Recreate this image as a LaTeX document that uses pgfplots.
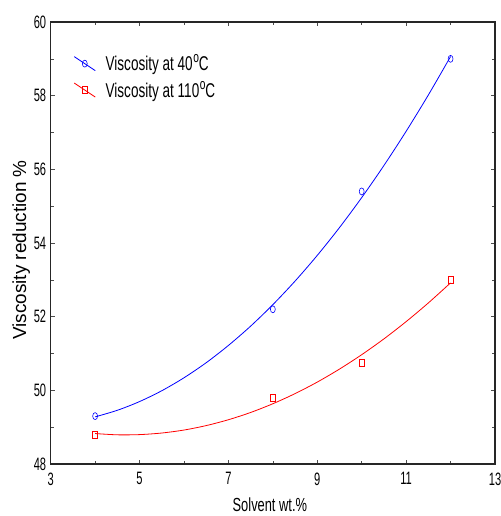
\documentclass[border=0pt]{standalone}
\usepackage{fontspec}
\setmainfont{Liberation Sans}
\newfontfamily\narrowfont{Liberation Sans}[FakeStretch=0.68]
\newfontfamily\ticknarrow{Liberation Sans}[FakeStretch=0.62]
\usepackage{pgfplots}
\pgfplotsset{compat=1.18}
\newcommand{\degsup}{\kern0.5bp\raisebox{0.75ex}{\fontsize{15}{15}\selectfont o}}
\begin{document}
\begin{tikzpicture}
\begin{axis}[
  width=444.3bp, height=442bp, scale only axis,
  xmin=3, xmax=13, ymin=48, ymax=60,
  xtick={3,5,...,13}, ytick={48,50,...,60},
  minor x tick num=1, minor y tick num=1,
  tick align=inside, major tick length=4bp, minor tick length=3bp,
  axis line style={line width=1.1bp, black!85},
  every tick/.style={black!70, line width=0.6bp},
  /pgf/number format/assume math mode=true,
  ticklabel style={font=\ticknarrow\fontsize{18}{18}\selectfont},
  xticklabel style={yshift=-5bp},
  yticklabel style={xshift=-1bp},
  xlabel={\narrowfont\fontsize{19}{19}\selectfont Solvent wt.\%},
  ylabel={\fontsize{19}{19}\selectfont Viscosity reduction \%},
  xlabel style={yshift=-6bp, xshift=-3bp},
  ylabel style={yshift=-3bp, xshift=-7bp},
  legend style={draw=none, fill=none, at={(rel axis cs:0.045,0.935)}, anchor=north west,
    font=\narrowfont\fontsize{20}{20}\selectfont, row sep=5bp},
  legend cell align=left,
  legend image code/.code={\draw[mark repeat=2, mark phase=2, #1] plot coordinates {(0bp,7bp)(10.5bp,0bp)(21bp,-7bp)}; \path (29bp,0bp);},
]
\addlegendimage{blue, line width=0.8bp, mark=o, mark size=3.5bp, mark options={xscale=0.7, solid, line width=0.6bp}}
\addlegendentry{Viscosity at 40\degsup C}
\addlegendimage{red, line width=0.8bp, mark=square, mark size=3.5bp, mark options={xscale=0.7, solid, line width=0.6bp}}
\addlegendentry{Viscosity at 110\degsup C}

% fitted curves
\addplot[blue, line width=0.8bp, smooth, forget plot] coordinates {
(4,49.280)(4.5,49.458)(5,49.695)(5.5,49.989)(6,50.341)(6.5,50.750)(7,51.219)(7.5,51.743)
(8,52.326)(8.5,52.966)(9,53.664)(9.5,54.419)(10,55.233)(10.5,56.104)(11,57.033)(11.5,58.019)(12,59.063)};
\addplot[red, line width=0.8bp, smooth, forget plot] coordinates {
(4,48.827)(4.5,48.792)(5,48.798)(5.5,48.841)(6,48.922)(6.5,49.043)(7,49.202)(7.5,49.399)
(8,49.636)(8.5,49.911)(9,50.224)(9.5,50.577)(10,50.968)(10.5,51.397)(11,51.866)(11.5,52.373)(12,52.918)};
% data points
\addplot[blue, only marks, mark=o, mark size=3.5bp, mark options={xscale=0.7, line width=0.6bp}, forget plot] coordinates {
(4,49.3)(8,52.2)(10,55.4)(12,59.0)};
\addplot[red, only marks, mark=square, mark size=3.5bp, mark options={xscale=0.7, line width=0.6bp}, forget plot] coordinates {
(4,48.8)(8,49.8)(10,50.75)(12,53.0)};
\end{axis}
\pgfresetboundingbox
\path ([shift={(-50.7bp,-52bp)}]current axis.south west) rectangle ([shift={(6bp,22bp)}]current axis.north east);
\end{tikzpicture}
\end{document}
